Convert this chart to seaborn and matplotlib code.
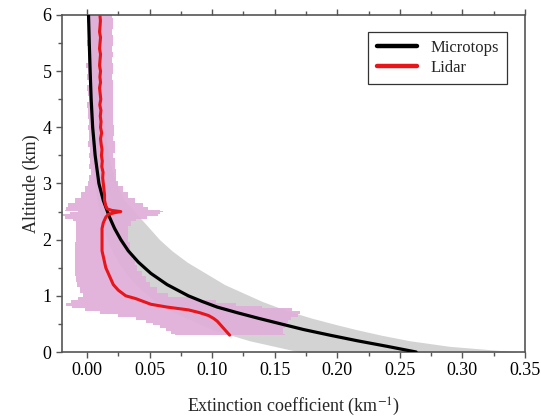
import numpy as np
import matplotlib
matplotlib.use("Agg")
import matplotlib.pyplot as plt
import seaborn as sns
from matplotlib.ticker import MultipleLocator

# Microtops retrieved profile (altitude in km, extinction in km^-1) with its envelope
micro_alt = [0.0, 0.1, 0.2, 0.3, 0.4, 0.5, 0.6, 0.7, 0.8, 0.9, 1.0, 1.2, 1.4,
             1.6, 1.8, 2.0, 2.2, 2.4, 2.7, 3.0, 3.5, 4.0, 4.5, 5.0, 5.5, 6.0]
micro_ext = [0.263, 0.240, 0.216, 0.194, 0.173, 0.155, 0.137, 0.120, 0.104, 0.092,
             0.081, 0.064, 0.051, 0.041, 0.033, 0.027, 0.022, 0.018, 0.013, 0.0095,
             0.0065, 0.0045, 0.0033, 0.0025, 0.0018, 0.0012]
micro_hi = [0.345, 0.290, 0.258, 0.235, 0.215, 0.197, 0.180, 0.165, 0.152, 0.140,
            0.130, 0.110, 0.095, 0.080, 0.068, 0.058, 0.050, 0.042, 0.030, 0.023,
            0.017, 0.014, 0.012, 0.010, 0.009, 0.008]
micro_lo = [0.170, 0.150, 0.130, 0.115, 0.100, 0.090, 0.080, 0.070, 0.062, 0.055,
            0.049, 0.039, 0.031, 0.025, 0.020, 0.016, 0.013, 0.011, 0.008, 0.006,
            0.004, 0.003, 0.002, 0.0015, 0.001, 0.0005]

# Lidar profile and its uncertainty
lidar_alt = [0.30, 0.35, 0.40, 0.45, 0.50, 0.55, 0.60, 0.65, 0.70, 0.75, 0.80, 0.85,
             0.90, 0.95, 1.00, 1.10, 1.20, 1.30, 1.40, 1.50, 1.60, 1.70, 1.80, 1.90,
             2.00, 2.10, 2.20, 2.30, 2.35, 2.40, 2.45, 2.48, 2.50, 2.52, 2.55, 2.60,
             2.70, 2.80, 2.90, 3.00, 3.1, 3.2, 3.3, 3.4, 3.5, 3.6, 3.7, 3.8, 3.9, 4.0,
             4.1, 4.2, 4.3, 4.4, 4.5, 4.6, 4.7, 4.8, 4.9, 5.0, 5.1, 5.2, 5.3, 5.4,
             5.5, 5.6, 5.7, 5.8, 5.9, 6.0]
lidar_ext = [0.114, 0.112, 0.110, 0.108, 0.106, 0.104, 0.101, 0.097, 0.090, 0.081,
             0.064, 0.051, 0.045, 0.039, 0.031, 0.025, 0.021, 0.019, 0.017, 0.015,
             0.014, 0.013, 0.012, 0.012, 0.012, 0.012, 0.012, 0.013, 0.014, 0.015,
             0.017, 0.022, 0.027, 0.020, 0.016, 0.015, 0.014, 0.014, 0.0135, 0.013,
             0.0125, 0.0128, 0.0118, 0.0122, 0.0115, 0.0120, 0.0113, 0.0108, 0.0117, 0.0108,
             0.0112, 0.0106, 0.0111, 0.0102, 0.0110, 0.0105, 0.0100, 0.0108, 0.0103, 0.0108,
             0.0100, 0.0104, 0.0108, 0.0100, 0.0104, 0.0108, 0.0100, 0.0104, 0.0107, 0.0103]
lidar_err = [0.044, 0.045, 0.047, 0.050, 0.053, 0.057, 0.062, 0.072, 0.080, 0.083,
             0.076, 0.068, 0.058, 0.046, 0.034, 0.031, 0.029, 0.028, 0.027, 0.025,
             0.024, 0.023, 0.022, 0.022, 0.021, 0.021, 0.021, 0.022, 0.025, 0.033,
             0.040, 0.036, 0.034, 0.038, 0.033, 0.030, 0.024, 0.019, 0.015, 0.012,
             0.011, 0.0100, 0.0106, 0.0100, 0.0096, 0.0100, 0.0108, 0.0096, 0.0100, 0.0104,
             0.0096, 0.0100, 0.0100, 0.0106, 0.0096, 0.0100, 0.0104, 0.0096, 0.0100, 0.0100,
             0.0106, 0.0096, 0.0100, 0.0096, 0.0104, 0.0100, 0.0096, 0.0100, 0.0104, 0.0100]

sns.set_style("ticks")
plt.rcParams['font.family'] = ['Liberation Serif', 'DejaVu Serif']
plt.rcParams['mathtext.fontset'] = 'stix'

fig = plt.figure(figsize=(5.41, 4.20), dpi=100)
ax = fig.add_axes([0.1146, 0.1619, 0.8558, 0.8024])

lx = np.array(lidar_ext)
le = np.array(lidar_err)

# shaded envelopes first, then the profiles on top
ax.fill_betweenx(micro_alt, micro_lo, micro_hi, color='#d3d3d3', lw=0, zorder=1)
ax.fill_betweenx(lidar_alt, lx - le, lx + le, step='mid', color='#e0aed9',
                 lw=0, alpha=0.92, zorder=2)

sns.lineplot(x=micro_ext, y=micro_alt, orient='y', sort=False, color='black',
             lw=2.3, label='Microtops', ax=ax, zorder=3)
sns.lineplot(x=lidar_ext, y=lidar_alt, orient='y', sort=False, color='#e8151b',
             lw=2.2, label='Lidar', ax=ax, zorder=4)

ax.set_xlim(-0.02, 0.35)
ax.set_ylim(0, 6)
ax.xaxis.set_major_locator(MultipleLocator(0.05))
ax.xaxis.set_minor_locator(MultipleLocator(0.025))
ax.yaxis.set_major_locator(MultipleLocator(1))
ax.yaxis.set_minor_locator(MultipleLocator(0.5))
ax.xaxis.set_major_formatter(matplotlib.ticker.FormatStrFormatter('%.2f'))

for s in ax.spines.values():
    s.set_color('#555555')
    s.set_linewidth(1.2)
ax.tick_params(which='both', direction='out', colors='#555555', labelcolor='black',
               top=True, right=False, labelsize=13, width=1.0)
ax.tick_params(which='major', length=4)
ax.tick_params(which='minor', length=3)

ax.set_xlabel("Extinction coefficient (km$^{-1}$)", fontsize=13, labelpad=12)
ax.set_ylabel("Altitude (km)", fontsize=13, labelpad=2)

leg = ax.legend(loc='upper right', bbox_to_anchor=(0.961, 0.95), fontsize=12,
                frameon=True, fancybox=False, handlelength=2.4,
                borderpad=0.5, labelspacing=0.2, borderaxespad=0)
leg.get_frame().set_edgecolor('black')
leg.get_frame().set_linewidth(0.9)
for line in leg.get_lines():
    line.set_linewidth(3.2)

fig.savefig("out.png", dpi=100)
